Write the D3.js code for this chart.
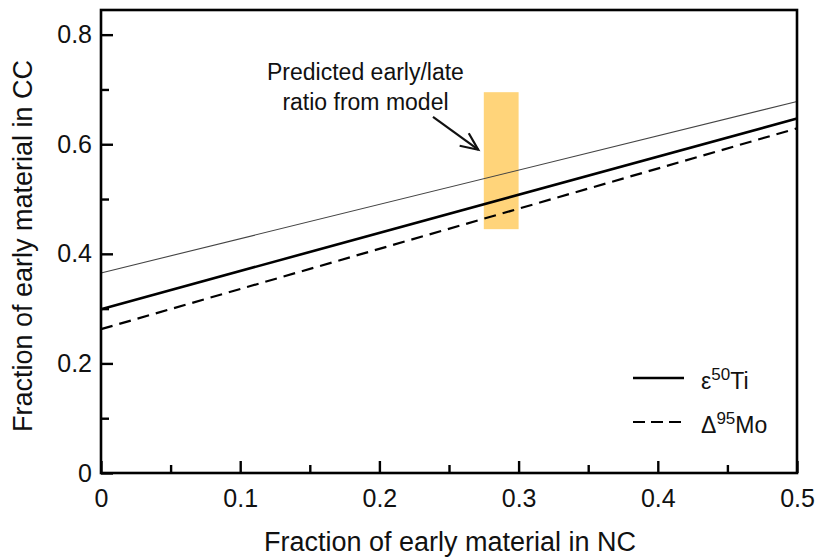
<!DOCTYPE html>
<html>
<head>
<meta charset="utf-8">
<script src="https://cdn.jsdelivr.net/npm/d3@7"></script>
<style>
  html, body { margin: 0; padding: 0; background: #fff; }
  svg { display: block; font-family: "Liberation Sans", Arial, sans-serif; }
</style>
</head>
<body>
<svg id="chart" width="815" height="557"></svg>
<script>
// ---- data ----
const fracNC = [0, 0.5];
const tiLine = [0.299, 0.647];      // ε50Ti
const moLine = [0.2625, 0.629];     // Δ95Mo
const thinLine = [0.365, 0.678];    // thin reference line
const modelX = [0.275, 0.30];
const modelY = [0.445, 0.695];
const xMajor = [0, 0.1, 0.2, 0.3, 0.4, 0.5];
const xMinor = [0.05, 0.15, 0.25, 0.35, 0.45];
const yMajor = [0, 0.2, 0.4, 0.6, 0.8];
const yMinor = [0.1, 0.3, 0.5, 0.7];
const xLabels = ["0", "0.1", "0.2", "0.3", "0.4", "0.5"];
const yLabels = ["0", "0.2", "0.4", "0.6", "0.8"];

const W = 815, H = 557;
const margin = { left: 101, right: 18, top: 10, bottom: 84 };
const svg = d3.select("#chart");

const x = d3.scaleLinear().domain([0, 0.5]).range([margin.left, W - margin.right]);
const y = d3.scaleLinear().domain([0, 0.845]).range([H - margin.bottom, margin.top]);

// model rectangle
svg.append("rect")
  .attr("x", x(modelX[0])).attr("y", y(modelY[1]))
  .attr("width", x(modelX[1]) - x(modelX[0]))
  .attr("height", y(modelY[0]) - y(modelY[1]))
  .attr("fill", "#FFD47A");

const line = d3.line().x((d, i) => x(fracNC[i])).y(d => y(d));

svg.append("path").datum(thinLine).attr("d", line)
  .attr("fill", "none").attr("stroke", "#444").attr("stroke-width", 1.1);
svg.append("path").datum(tiLine).attr("d", line)
  .attr("fill", "none").attr("stroke", "#000").attr("stroke-width", 2.6);
svg.append("path").datum(moLine).attr("d", line)
  .attr("fill", "none").attr("stroke", "#000").attr("stroke-width", 2.2)
  .attr("stroke-dasharray", "12,7");

// axes
const xAxisG = svg.append("g").attr("transform", `translate(0,${y(0)})`);
xAxisG.call(d3.axisBottom(x).tickValues(xMajor).tickSize(-12).tickPadding(16)
  .tickFormat((d, i) => xLabels[i]));
const xMinorG = svg.append("g").attr("transform", `translate(0,${y(0)})`);
xMinorG.call(d3.axisBottom(x).tickValues(xMinor).tickSize(-8).tickFormat(""));

const yAxisG = svg.append("g").attr("transform", `translate(${x(0)},0)`);
yAxisG.call(d3.axisLeft(y).tickValues(yMajor).tickSize(-12).tickPadding(9)
  .tickFormat((d, i) => yLabels[i]));
const yMinorG = svg.append("g").attr("transform", `translate(${x(0)},0)`);
yMinorG.call(d3.axisLeft(y).tickValues(yMinor).tickSize(-8).tickFormat(""));

svg.selectAll(".domain").remove();
svg.selectAll(".tick line").attr("stroke", "#000").attr("stroke-width", 2.4);
svg.selectAll(".tick text").attr("font-size", 25).attr("fill", "#111")
  .attr("font-family", "'Liberation Sans', Arial, sans-serif");

// frame
svg.append("rect")
  .attr("x", x(0)).attr("y", y(0.845))
  .attr("width", x(0.5) - x(0)).attr("height", y(0) - y(0.845))
  .attr("fill", "none").attr("stroke", "#000").attr("stroke-width", 2.6);

// axis titles
svg.append("text")
  .attr("x", (x(0) + x(0.5)) / 2 + 1).attr("y", 551)
  .attr("text-anchor", "middle").attr("font-size", 27).attr("fill", "#111")
  .text("Fraction of early material in NC");
svg.append("text")
  .attr("transform", `translate(32,246) rotate(-90)`)
  .attr("text-anchor", "middle").attr("font-size", 27).attr("fill", "#111")
  .text("Fraction of early material in CC");

// annotation
const annX = 0.19;
svg.append("text").attr("x", x(annX)).attr("y", y(0.718))
  .attr("text-anchor", "middle").attr("font-size", 23).attr("fill", "#111")
  .text("Predicted early/late");
svg.append("text").attr("x", x(annX)).attr("y", y(0.718) + 30)
  .attr("text-anchor", "middle").attr("font-size", 23).attr("fill", "#111")
  .text("ratio from model");

const a0 = [x(0.2385), y(0.650)], a1 = [x(0.271), y(0.590)];
svg.append("line").attr("x1", a0[0]).attr("y1", a0[1]).attr("x2", a1[0]).attr("y2", a1[1])
  .attr("stroke", "#111").attr("stroke-width", 2.2);
const ang = Math.atan2(a1[1] - a0[1], a1[0] - a0[0]);
const hl = 19, hw = 0.42;
svg.append("path")
  .attr("d", `M${a1[0] - hl * Math.cos(ang - hw)},${a1[1] - hl * Math.sin(ang - hw)} L${a1[0]},${a1[1]} L${a1[0] - hl * Math.cos(ang + hw)},${a1[1] - hl * Math.sin(ang + hw)}`)
  .attr("fill", "none").attr("stroke", "#111").attr("stroke-width", 2.2);

// legend
const legend = [
  { base: "ε", sup: "50", tail: "Ti", dash: null, w: 2.6, ly: 378 },
  { base: "Δ", sup: "95", tail: "Mo", dash: "12,6", w: 2.2, ly: 422 }
];
legend.forEach(l => {
  svg.append("line").attr("x1", 633).attr("x2", 684).attr("y1", l.ly).attr("y2", l.ly)
    .attr("stroke", "#000").attr("stroke-width", l.w)
    .attr("stroke-dasharray", l.dash);
  const t = svg.append("text").attr("x", 701).attr("y", l.ly + 11)
    .attr("font-size", 23).attr("fill", "#111");
  t.append("tspan").text(l.base);
  t.append("tspan").attr("dy", -9).attr("font-size", 17).text(l.sup);
  t.append("tspan").attr("dy", 9).text(l.tail);
});
</script>
</body>
</html>
